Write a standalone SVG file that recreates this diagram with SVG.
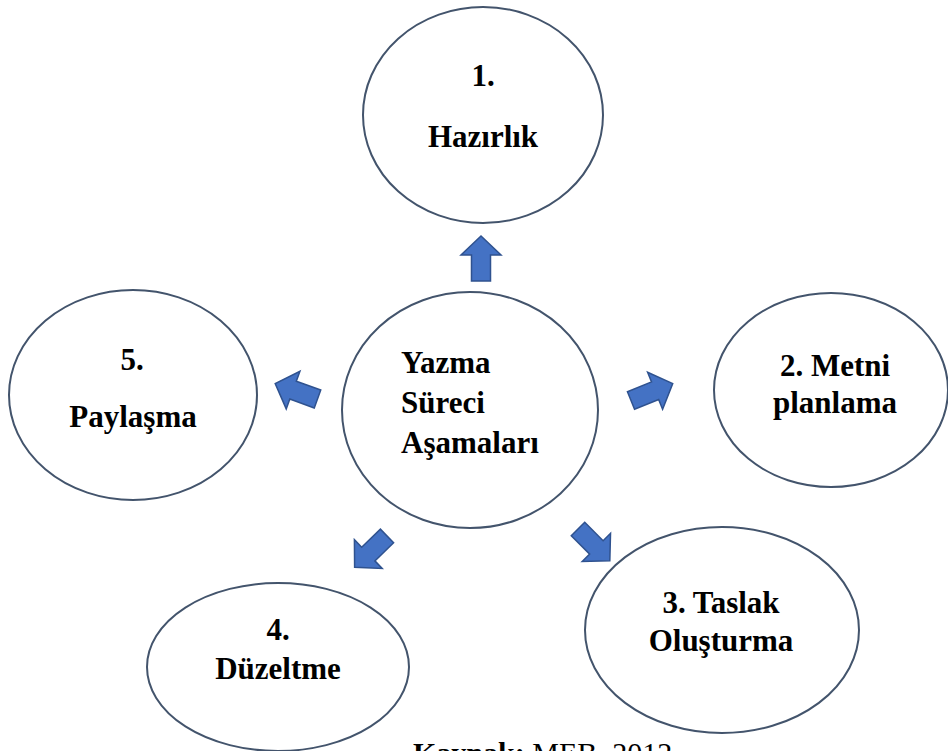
<svg xmlns="http://www.w3.org/2000/svg" xmlns:xlink="http://www.w3.org/1999/xlink" width="948" height="751" viewBox="0 0 948 751">
<style>
.node ellipse{fill:#ffffff;stroke:#43546C;stroke-width:2}
.t{font-family:"Liberation Serif","Times New Roman",serif;font-weight:bold;font-size:31px;fill:#000;text-anchor:middle}
.tl{font-family:"Liberation Serif","Times New Roman",serif;font-weight:bold;font-size:31px;fill:#000;text-anchor:start}
.arr{fill:#4472C4;stroke:#2F528F;stroke-width:1.5;stroke-linejoin:miter}
.src{font-family:"Liberation Serif","Times New Roman",serif;font-size:30px;fill:#000}
</style>
<defs>
<path id="arr" d="M0,-9.5 L26,-9.5 L26,-20 L45,0 L26,20 L26,9.5 L0,9.5 Z"/>
</defs>
<rect width="948" height="751" fill="#ffffff"/>
<g id="n1" class="node">
<ellipse cx="483" cy="115" rx="120" ry="108"/>
<text class="t" x="483" y="86">1.</text>
<text class="t" x="483" y="147">Hazırlık</text>
</g>
<g id="center" class="node">
<ellipse cx="470" cy="410" rx="128" ry="118"/>
<text class="tl" x="401" y="373">Yazma</text>
<text class="tl" x="401" y="413">Süreci</text>
<text class="tl" x="401" y="453">Aşamaları</text>
</g>
<g id="n5" class="node">
<ellipse cx="133" cy="395" rx="124" ry="105"/>
<text class="t" x="132" y="370">5.</text>
<text class="t" x="133" y="427">Paylaşma</text>
</g>
<g id="n2" class="node">
<ellipse cx="831" cy="390" rx="117" ry="97"/>
<text class="t" x="835" y="376">2. Metni</text>
<text class="t" x="835" y="413">planlama</text>
</g>
<g id="n4" class="node">
<ellipse cx="278" cy="667" rx="131" ry="84"/>
<text class="t" x="278" y="640">4.</text>
<text class="t" x="278" y="679">Düzeltme</text>
</g>
<g id="n3" class="node">
<ellipse cx="722" cy="630" rx="137" ry="103"/>
<text class="t" x="721" y="613">3. Taslak</text>
<text class="t" x="721" y="651">Oluşturma</text>
</g>
<g id="connectors">
<use xlink:href="#arr" class="arr" transform="translate(481,281) rotate(-90)"/>
<use xlink:href="#arr" class="arr" transform="translate(317.5,399) rotate(200)"/>
<use xlink:href="#arr" class="arr" transform="translate(631,400.5) rotate(-22)"/>
<use xlink:href="#arr" class="arr" transform="translate(387,536) rotate(136)"/>
<use xlink:href="#arr" class="arr" transform="translate(578,529) rotate(45)"/>
</g>
<text class="src" x="413" y="763"><tspan font-weight="bold">Kaynak:</tspan> MEB, 2012</text>
</svg>
